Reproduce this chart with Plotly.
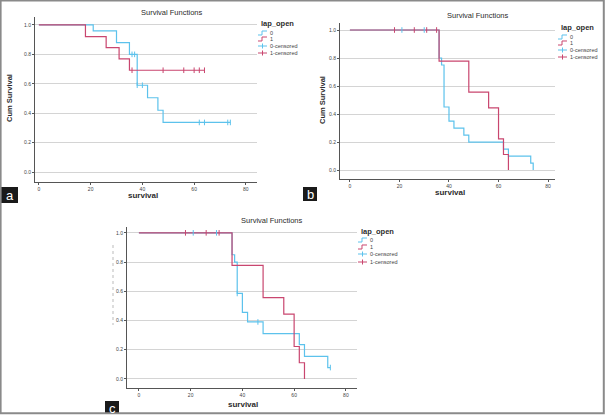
import plotly.graph_objects as go

W, H = 605, 415

# ---------------- data ----------------
# Panel a
a_time0 = [0, 21, 30, 35, 38, 42, 46, 48, 74]
a_surv0 = [1.0, 0.96, 0.88, 0.80, 0.59, 0.505, 0.42, 0.337, 0.337]
a_cens0 = [36, 37, 38, 40, 62, 64, 73, 74]
a_time1 = [0, 18, 26, 31, 35, 64]
a_surv1 = [1.0, 0.92, 0.846, 0.769, 0.692, 0.692]
a_cens1 = [36, 48, 56, 60, 62, 64]

# Panel b
b_time0 = [0, 36, 37, 38, 40, 42, 46, 48, 62, 64, 73, 74]
b_surv0 = [1.0, 0.80, 0.75, 0.45, 0.35, 0.30, 0.25, 0.20, 0.15, 0.10, 0.05, 0.0]
b_cens0 = [21, 30]
b_time1 = [0, 36, 48, 56, 60, 62, 64]
b_surv1 = [1.0, 0.778, 0.556, 0.444, 0.222, 0.111, 0.0]
b_cens1 = [18, 26, 31, 35]

# Panel c
c_time0 = [0, 36, 37, 38, 40, 42, 48, 62, 64, 73, 74]
c_surv0 = [1.0, 0.85, 0.80, 0.585, 0.455, 0.39, 0.31, 0.235, 0.155, 0.078, 0.078]
c_cens0 = [21, 30, 38, 46, 74]
c_time1 = [0, 36, 48, 56, 60, 62, 64]
c_surv1 = [1.0, 0.778, 0.556, 0.444, 0.222, 0.111, 0.0]
c_cens1 = [18, 26, 31]

legend_labels = ["0", "1", "0-censored", "1-censored"]
legend_title = "lap_open"
panel_title = "Survival Functions"
x_ticks = [0, 20, 40, 60, 80]
y_ticks = [0.0, 0.2, 0.4, 0.6, 0.8, 1.0]

BLUE = "#5cc2ec"
RED = "#c9466f"
FONT = "Liberation Sans, Arial, sans-serif"
TXT = "#2b2b2b"


def step_at(times, survs, t):
    s = survs[0]
    for tt, ss in zip(times, survs):
        if tt <= t:
            s = ss
    return s


def px(x):
    return x / W


def py(y):
    return 1 - y / H


fig = go.Figure()

panels = [
    dict(x0=35, x1=257, y0=17, y1=182, xr=[-1.5, 84.3], yr=[-0.068, 1.054],
         data=(a_time0, a_surv0, a_cens0, a_time1, a_surv1, a_cens1)),
    dict(x0=340, x1=555, y0=23, y1=179, xr=[-4.0, 82.8], yr=[-0.064, 1.05],
         data=(b_time0, b_surv0, b_cens0, b_time1, b_surv1, b_cens1)),
    dict(x0=127, x1=357, y0=227, y1=388, xr=[-4.6, 84.3], yr=[-0.062, 1.04],
         data=(c_time0, c_surv0, c_cens0, c_time1, c_surv1, c_cens1)),
]

for i, p in enumerate(panels):
    n = "" if i == 0 else str(i + 1)
    xa, ya = "x" + n, "y" + n
    t0, s0, c0, t1, s1, c1 = p["data"]
    fig.add_trace(go.Scatter(x=t0, y=s0, mode="lines", line=dict(color=BLUE, width=1.2, shape="hv"),
                             xaxis=xa, yaxis=ya, showlegend=False, hoverinfo="skip"))
    fig.add_trace(go.Scatter(x=t1, y=s1, mode="lines", line=dict(color=RED, width=1.2, shape="hv"),
                             xaxis=xa, yaxis=ya, showlegend=False, hoverinfo="skip"))
    fig.add_trace(go.Scatter(x=c0, y=[step_at(t0, s0, t) for t in c0], mode="markers",
                             marker=dict(symbol="line-ns", size=4, line=dict(color=BLUE, width=1)),
                             xaxis=xa, yaxis=ya, showlegend=False, hoverinfo="skip"))
    fig.add_trace(go.Scatter(x=c1, y=[step_at(t1, s1, t) for t in c1], mode="markers",
                             marker=dict(symbol="line-ns", size=4, line=dict(color=RED, width=1)),
                             xaxis=xa, yaxis=ya, showlegend=False, hoverinfo="skip"))
    axis_common = dict(showline=True, linecolor="#555555", linewidth=1, ticks="outside",
                       ticklen=2, tickcolor="#555555", tickfont=dict(size=5, color="#444", family=FONT),
                       zeroline=False)
    fig.layout["xaxis" + n] = dict(domain=[px(p["x0"]), px(p["x1"])], range=p["xr"], anchor=ya,
                                   tickvals=x_ticks, showgrid=False, **axis_common)
    fig.layout["yaxis" + n] = dict(domain=[py(p["y1"]), py(p["y0"])], range=p["yr"], anchor=xa,
                                   tickvals=y_ticks, tickformat=".1f", showgrid=True,
                                   gridcolor="#d4d4d4", gridwidth=1, **axis_common)

ann = []
shapes = []


def text(x, y, s, size, bold=False, color=TXT, angle=0, xanchor="center"):
    ann.append(dict(x=px(x), y=py(y), xref="paper", yref="paper", showarrow=False,
                    text=("<b>%s</b>" % s) if bold else s, textangle=angle, xanchor=xanchor,
                    yanchor="middle", font=dict(size=size, color=color, family=FONT)))


text(172, 12, panel_title, 7.5)
text(478, 16, panel_title, 7.5)
text(272, 220, panel_title, 7.5)
text(143, 196, "survival", 8, bold=True)
text(450, 193, "survival", 8, bold=True)
text(243, 404, "survival", 8, bold=True)
text(10, 98, "Cum Survival", 7.5, bold=True, angle=-90)
text(322, 100, "Cum Survival", 7.5, bold=True, angle=-90)

shapes.append(dict(type="line", xref="paper", yref="paper", x0=px(113), x1=px(113),
                   y0=py(245), y1=py(325), line=dict(color="#bbbbbb", width=1, dash="dot")))

legs = [(260, 23, [33, 39, 46, 53]), (560, 28, [37, 43, 50, 57]), (360, 231, [240, 247, 254, 262])]
for lx, ly, rows in legs:
    text(lx - 1, ly, legend_title, 7.5, bold=True, xanchor="left")
    gx0, gx1 = lx - 2, lx + 7
    for k, (lab, yy) in enumerate(zip(legend_labels, rows)):
        col = BLUE if k % 2 == 0 else RED
        if k < 2:
            path = "M %f,%f L %f,%f L %f,%f L %f,%f" % (
                px(gx0), py(yy + 2), px(gx0 + 4), py(yy + 2), px(gx0 + 4), py(yy - 2), px(gx1), py(yy - 2))
            shapes.append(dict(type="path", xref="paper", yref="paper", path=path,
                               line=dict(color=col, width=1)))
        else:
            shapes.append(dict(type="line", xref="paper", yref="paper", x0=px(gx0), x1=px(gx1),
                               y0=py(yy), y1=py(yy), line=dict(color=col, width=1)))
            shapes.append(dict(type="line", xref="paper", yref="paper", x0=px(gx0 + 4.5), x1=px(gx0 + 4.5),
                               y0=py(yy - 2.5), y1=py(yy + 2.5), line=dict(color=col, width=1)))
        text(gx1 + 1, yy, lab, 5.5, color="#444", xanchor="left")

for lab, (x0, y0, x1, y1) in zip(["a", "b", "c"], [(1, 187, 18, 203), (303, 187, 317, 201), (105, 401, 119, 414)]):
    shapes.append(dict(type="rect", xref="paper", yref="paper", x0=px(x0), x1=px(x1), y0=py(y1), y1=py(y0),
                       fillcolor="#1a1a1a", line=dict(width=0)))
    text((x0 + x1) / 2, (y0 + y1) / 2 + 0.5, lab, 13, color="white")

shapes.append(dict(type="rect", xref="paper", yref="paper", x0=0.001, x1=0.998, y0=0.004, y1=0.999,
                   line=dict(color="#8a8a8a", width=2), fillcolor="rgba(0,0,0,0)"))

fig.update_layout(template="none", width=W, height=H, margin=dict(l=0, r=0, t=0, b=0),
                  paper_bgcolor="white", plot_bgcolor="white", annotations=ann, shapes=shapes,
                  showlegend=False, font=dict(family=FONT, color=TXT))

fig.write_html("out.html", config={"displayModeBar": False, "staticPlot": True},
               post_script="document.body.style.margin='0px';document.body.style.padding='0px';document.body.style.overflow='hidden';")
